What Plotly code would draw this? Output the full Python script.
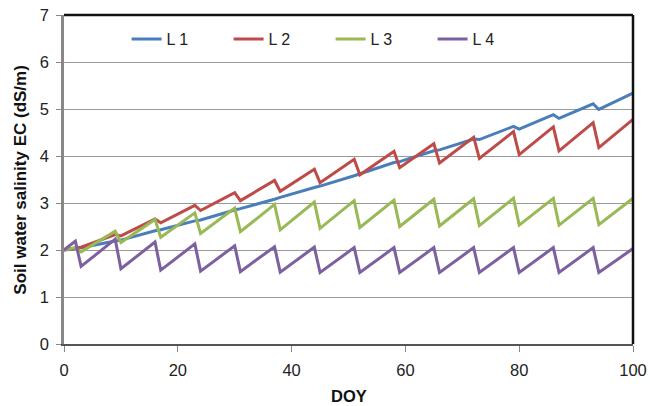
import plotly.graph_objects as go

days = [0, 2, 3, 9, 10, 16, 17, 23, 24, 30, 31, 37, 38, 44, 45, 51, 52,
        58, 59, 65, 66, 72, 73, 79, 80, 86, 87, 93, 94, 100]

l1 = [2.00, 2.04, 2.05, 2.19, 2.21, 2.41, 2.43, 2.62, 2.64, 2.85, 2.88, 3.08, 3.12,
      3.33, 3.36, 3.58, 3.62, 3.86, 3.88, 4.11, 4.13, 4.36, 4.35, 4.63, 4.57,
      4.88, 4.80, 5.11, 4.99, 5.34]
l2 = [2.00, 2.03, 2.06, 2.33, 2.30, 2.66, 2.58, 2.95, 2.84, 3.22, 3.05, 3.48, 3.25,
      3.72, 3.43, 3.93, 3.60, 4.10, 3.75, 4.26, 3.85, 4.40, 3.95, 4.52, 4.03,
      4.62, 4.11, 4.71, 4.18, 4.78]
l3 = [2.00, 2.05, 1.96, 2.40, 2.16, 2.65, 2.27, 2.79, 2.35, 2.89, 2.39, 2.97, 2.43,
      3.02, 2.46, 3.05, 2.48, 3.06, 2.50, 3.08, 2.51, 3.09, 2.52, 3.10, 2.53,
      3.10, 2.53, 3.10, 2.54, 3.10]
l4 = [2.00, 2.19, 1.65, 2.23, 1.60, 2.17, 1.57, 2.13, 1.55, 2.09, 1.54, 2.07, 1.53,
      2.06, 1.52, 2.05, 1.52, 2.05, 1.52, 2.05, 1.52, 2.05, 1.52, 2.05, 1.52,
      2.05, 1.52, 2.05, 1.52, 2.03]

names = ["L 1", "L 2", "L 3", "L 4"]
series = [l1, l2, l3, l4]
colors = ["#4A7EBB", "#BE4B48", "#98B954", "#7D60A0"]

x_ticks = [0, 20, 40, 60, 80, 100]
y_ticks = [0, 1, 2, 3, 4, 5, 6, 7]

fig = go.Figure()
for name, ys, c in zip(names, series, colors):
    fig.add_trace(go.Scatter(x=days, y=ys, name=name, mode="lines",
                             line=dict(color=c, width=3)))

font_family = "Liberation Sans, Arial, sans-serif"

fig.update_layout(
    width=650, height=406,
    margin=dict(l=64, r=17, t=15, b=62),
    paper_bgcolor="white", plot_bgcolor="white",
    showlegend=True,
    legend=dict(orientation="h", x=0.110, y=0.927, xanchor="left", yanchor="middle",
                bgcolor="rgba(0,0,0,0)", font=dict(family=font_family, size=16, color="#222"),
                entrywidth=57, entrywidthmode="pixels", itemwidth=30),
    font=dict(family=font_family, size=16, color="#222"),
    xaxis=dict(range=[0, 100], tickvals=x_ticks, ticks="outside", ticklen=6,
               tickcolor="#888", tickwidth=1, showgrid=False, zeroline=False,
               showline=True, linecolor="#555", linewidth=2, automargin=False,
               ticklabelstandoff=4, ticklabeloverflow="allow",
               tickfont=dict(size=16.5, color="#222")),
    yaxis=dict(range=[0, 7], tickvals=y_ticks, ticks="outside", ticklen=5,
               tickcolor="#888", tickwidth=1, showgrid=True, gridcolor="#999",
               gridwidth=1, zeroline=False, automargin=False,
               showline=True, linecolor="#888", linewidth=2.5,
               ticklabelstandoff=4, ticklabeloverflow="allow",
               tickfont=dict(size=16.5, color="#222")),
    shapes=[
        dict(type="line", xref="paper", yref="paper", x0=0, x1=1, y0=1, y1=1,
             line=dict(color="#111", width=2.5)),
        dict(type="line", xref="paper", yref="paper", x0=1, x1=1, y0=0, y1=1,
             line=dict(color="#111", width=2.5)),
    ],
    annotations=[
        dict(text="<b>DOY</b>", xref="paper", yref="paper", x=0.5, y=-0.158,
             xanchor="center", yanchor="middle", showarrow=False,
             font=dict(family=font_family, size=16.5, color="#111")),
        dict(text="<b>Soil water salinity EC (dS/m)</b>", xref="paper", yref="paper",
             x=-0.077, y=0.5, xanchor="center", yanchor="middle", textangle=-90,
             showarrow=False, font=dict(family=font_family, size=17, color="#111")),
    ],
)

fig.write_html("out.html", config={"displayModeBar": False},
               post_script="document.body.style.margin='0';")
